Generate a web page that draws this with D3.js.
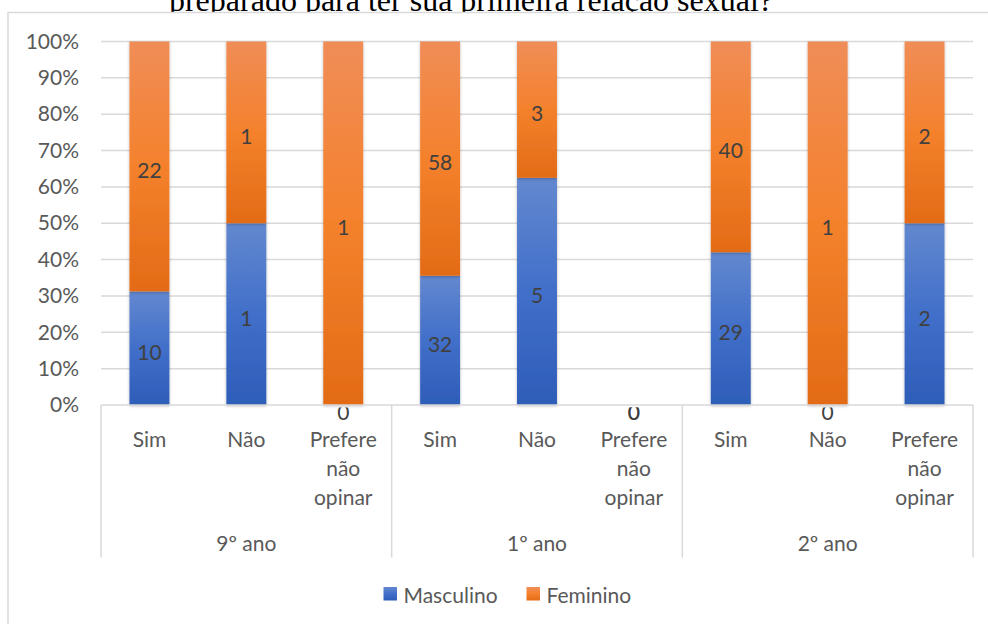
<!DOCTYPE html>
<html>
<head>
<meta charset="utf-8">
<script src="https://cdn.jsdelivr.net/npm/d3@7"></script>
<style>
  html, body { margin: 0; padding: 0; background: #fff; }
  svg { display: block; }
</style>
</head>
<body>
<svg id="chart" width="988" height="624"></svg>
<script>
// ---- data ----
const title = "preparado para ter sua primeira relação sexual?";
const groups = ["9º ano", "1º ano", "2º ano"];
const answers = ["Sim", "Não", "Prefere não opinar"];
const seriesNames = ["Masculino", "Feminino"];
const masculino = [10, 1, 0, 32, 5, 0, 29, 0, 2];
const feminino  = [22, 1, 1, 58, 3, 0, 40, 1, 2];
const yTicks = [0, 0.1, 0.2, 0.3, 0.4, 0.5, 0.6, 0.7, 0.8, 0.9, 1];

// ---- build rows ----
const rows = [];
groups.forEach((g, gi) => answers.forEach((a, ai) => {
  const i = gi * answers.length + ai;
  rows.push({ key: g + "|" + a, group: g, answer: a, Masculino: masculino[i], Feminino: feminino[i] });
}));

const svg = d3.select("#chart");
const W = 988, H = 624;
const plot = { left: 101, right: 973, top: 41.5, bottom: 405 };
const fontSans = "Lato, 'Open Sans', sans-serif";

// defs: gradients & shadow
const defs = svg.append("defs");
const gradStops = {
  Masculino: ["#6388cf", "#416fc9", "#2d5db8"],
  Feminino: ["#f08d57", "#f4812c", "#e36b16"]
};
seriesNames.forEach((s, si) => {
  const lg = defs.append("linearGradient").attr("id", "grad" + si)
    .attr("x1", 0).attr("y1", 0).attr("x2", 0).attr("y2", 1);
  lg.selectAll("stop").data(gradStops[s]).join("stop")
    .attr("offset", (d, i) => i / 2).attr("stop-color", d => d);
});
const f = defs.append("filter").attr("id", "shadow")
  .attr("x", "-30%").attr("y", "-10%").attr("width", "160%").attr("height", "120%");
f.append("feDropShadow").attr("dx", 0).attr("dy", 1).attr("stdDeviation", 1.6)
  .attr("flood-color", "#000").attr("flood-opacity", 0.28);
defs.append("clipPath").attr("id", "zeroClip")
  .append("rect").attr("x", 0).attr("y", 407.5).attr("width", W).attr("height", 200);

// title (partially hidden behind chart frame)
svg.append("text")
  .attr("x", 471).attr("y", 10.5)
  .attr("text-anchor", "middle")
  .style("font-family", "'Liberation Serif', 'Times New Roman', serif")
  .style("font-size", "32px")
  .attr("fill", "#000")
  .text(title);

// chart frame
svg.append("rect")
  .attr("x", 8).attr("y", 12.5).attr("width", 1200).attr("height", 1000)
  .attr("fill", "#fff").attr("stroke", "#d9d9d9").attr("stroke-width", 1.5);

// scales
const x = d3.scaleBand().domain(rows.map(r => r.key))
  .range([plot.left, plot.right]).paddingInner(0.588).paddingOuter(0.294);
const gx = d3.scaleBand().domain(groups).range([plot.left, plot.right]);
const y = d3.scaleLinear().domain([0, 1]).range([plot.bottom, plot.top]);

// gridlines
svg.append("g").selectAll("line").data(yTicks.slice(1)).join("line")
  .attr("x1", plot.left).attr("x2", plot.right)
  .attr("y1", d => y(d)).attr("y2", d => y(d))
  .attr("stroke", "#d9d9d9").attr("stroke-width", 1.5);

// y axis labels via d3 axis
const yAxis = svg.append("g").attr("transform", `translate(${plot.left},0)`)
  .call(d3.axisLeft(y).tickValues(yTicks).tickFormat(d3.format(".0%")).tickSize(0).tickPadding(22));
yAxis.select(".domain").remove();
yAxis.selectAll("text")
  .style("font-family", fontSans).style("font-size", "21px").attr("fill", "#595959");

// stacked bars
const stack = d3.stack().keys(seriesNames).offset(d3.stackOffsetExpand);
const stacked = stack(rows);

const layers = svg.append("g").selectAll("g").data(stacked).join("g")
  .attr("fill", (d, i) => `url(#grad${i})`);
layers.selectAll("rect").data(d => d.filter(s => s[1] - s[0] > 0)).join("rect")
  .attr("x", d => x(d.data.key))
  .attr("width", x.bandwidth())
  .attr("y", d => y(d[1]))
  .attr("height", d => y(d[0]) - y(d[1]))
  .attr("filter", "url(#shadow)");

// x axis baseline
svg.append("line")
  .attr("x1", plot.left).attr("x2", plot.right)
  .attr("y1", plot.bottom).attr("y2", plot.bottom)
  .attr("stroke", "#d9d9d9").attr("stroke-width", 1.5);

// group separators (multi-level category axis)
const sepX = groups.map(g => gx(g)).concat([plot.right]);
svg.append("g").selectAll("line").data(sepX).join("line")
  .attr("x1", d => d).attr("x2", d => d)
  .attr("y1", plot.bottom).attr("y2", 557.5)
  .attr("stroke", "#d9d9d9").attr("stroke-width", 1.5);

// data labels
const labels = svg.append("g")
  .style("font-family", fontSans).style("font-size", "21px")
  .attr("fill", "#404040").attr("text-anchor", "middle");
stacked.forEach((layer, si) => {
  layer.forEach(s => {
    const v = s.data[layer.key];
    const cx = x(s.data.key) + x.bandwidth() / 2;
    if (v === 0) {
      labels.append("text")
        .attr("x", cx).attr("y", 419.5)
        .attr("clip-path", "url(#zeroClip)")
        .text(v);
    } else {
      const mid = (y(s[0]) + y(s[1])) / 2;
      labels.append("text")
        .attr("x", cx).attr("y", mid + 11.5)
        .text(v);
    }
  });
});

// category labels (wrapped)
function wrapWords(text, maxW, sizeCtx) {
  const words = text.split(" ");
  const lines = [];
  let cur = "";
  words.forEach(w => {
    const t = cur ? cur + " " + w : w;
    if (cur && sizeCtx(t) > maxW) { lines.push(cur); cur = w; } else cur = t;
  });
  lines.push(cur);
  return lines;
}
const measure = svg.append("text").style("font-family", fontSans).style("font-size", "21px");
const measureW = t => { measure.text(t); return measure.node().getComputedTextLength(); };

const catG = svg.append("g")
  .style("font-family", fontSans).style("font-size", "21px")
  .attr("fill", "#595959").attr("text-anchor", "middle");
rows.forEach(r => {
  const lines = wrapWords(r.answer, x.step() - 8, measureW);
  const t = catG.append("text").attr("x", x(r.key) + x.bandwidth() / 2);
  lines.forEach((ln, li) => {
    t.append("tspan").attr("x", x(r.key) + x.bandwidth() / 2)
      .attr("y", 446.5 + li * 29).text(ln);
  });
});
measure.remove();

// group labels
svg.append("g").selectAll("text").data(groups).join("text")
  .attr("x", d => gx(d) + gx.bandwidth() / 2).attr("y", 550.5)
  .attr("text-anchor", "middle")
  .style("font-family", fontSans).style("font-size", "21px")
  .attr("fill", "#595959")
  .text(d => d);

// legend
const legendItems = [
  { name: seriesNames[0], sx: 383.5, tx: 403.5 },
  { name: seriesNames[1], sx: 526.5, tx: 546.5 }
];
const lg = svg.append("g");
legendItems.forEach((it, i) => {
  lg.append("rect").attr("x", it.sx).attr("y", 587).attr("width", 13.5).attr("height", 13.5)
    .attr("fill", `url(#grad${i})`);
  lg.append("text").attr("x", it.tx).attr("y", 602.5)
    .style("font-family", fontSans).style("font-size", "21px")
    .attr("fill", "#595959").text(it.name);
});
</script>
</body>
</html>
